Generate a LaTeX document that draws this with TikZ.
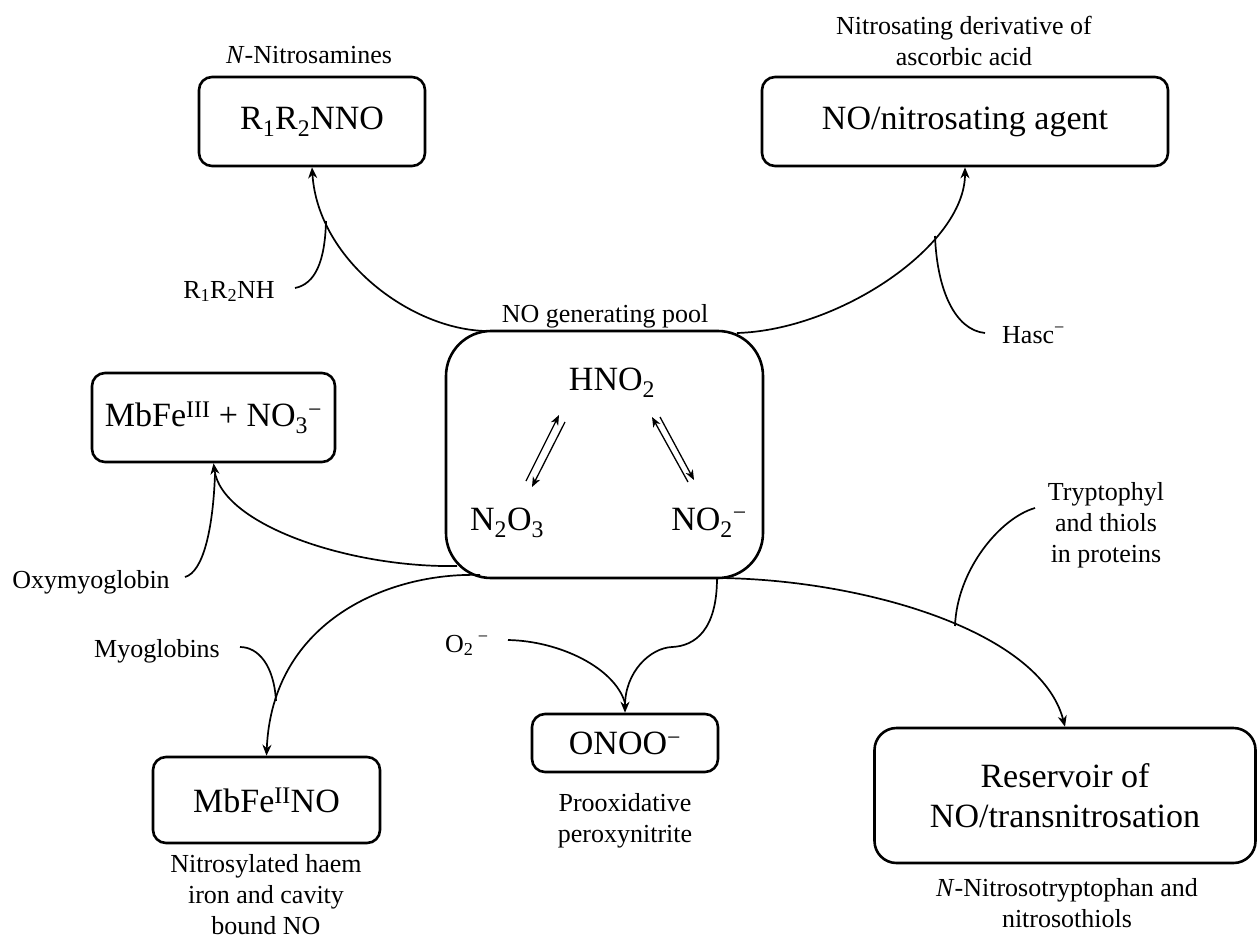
\documentclass[tikz,border=0pt]{standalone}
\usepackage{fontspec}
\setmainfont{Liberation Serif}
\usetikzlibrary{arrows.meta}
\newcommand\bigtxt{\fontsize{34}{40}\selectfont}
\newcommand\smalltxt{\fontsize{26}{31}\selectfont}
\begin{document}
\begin{tikzpicture}[x=1pt,y=-1pt,
  box/.style={draw, line width=2.6pt, rounded corners=13pt, inner sep=0pt, align=center, font=\bigtxt},
  lbl/.style={inner sep=0pt, align=center, font=\smalltxt},
  chem/.style={inner sep=0pt, font=\bigtxt, anchor=base},
  conn/.style={line width=1.7pt, -{Stealth[length=11pt,width=9pt,inset=3.5pt]}},
  hookline/.style={line width=1.7pt},
  eq/.style={line width=1.3pt, -{Stealth[length=10pt,width=8pt,inset=3pt]}}]
\useasboundingbox (0,0) rectangle (1258,940);

% boxes
\node[box, minimum width=226pt, minimum height=89pt] (nno) at (312,121.5) {R\textsubscript{1}R\textsubscript{2}NNO};
\node[box, minimum width=406pt, minimum height=89pt] (nag) at (965,121.5) {NO/nitrosating agent};
\node[box, minimum width=243pt, minimum height=89pt] (mb3) at (213.5,417.5) {MbFe\textsuperscript{III} + NO\textsubscript{3}\textsuperscript{−}};
\node[box, minimum width=317pt, minimum height=247pt, rounded corners=45pt] (pool) at (604.5,454.5) {};
\node[box, minimum width=227pt, minimum height=86pt] (mb2) at (266.5,800) {MbFe\textsuperscript{II}NO};
\node[box, minimum width=186pt, minimum height=58pt] (onoo) at (625,743) {ONOO\textsuperscript{−}};
\node[box, minimum width=381pt, minimum height=135pt, rounded corners=22pt] (res) at (1065,795.5) {Reservoir of\\NO/transnitrosation};

% pool contents
\node[chem] (hno) at (612,390) {HNO\textsubscript{2}};
\node[chem] (n2o3) at (507,530) {N\textsubscript{2}O\textsubscript{3}};
\node[chem] (no2) at (709,530) {NO\textsubscript{2}\textsuperscript{−}};
\coordinate (eA1) at (526,481); \coordinate (eA2) at (559,415);
\coordinate (eB1) at (565,422); \coordinate (eB2) at (532,487);
\coordinate (eC1) at (688,482); \coordinate (eC2) at (652,417);
\coordinate (eD1) at (660,417); \coordinate (eD2) at (694,480);
\draw[eq] (eA1) -- (eA2);
\draw[eq] (eB1) -- (eB2);
\draw[eq] (eC1) -- (eC2);
\draw[eq] (eD1) -- (eD2);

% labels
\node[lbl, anchor=base] (lNitros) at (309,63) {\textit{N}-Nitrosamines};
\node[lbl] (lAsc) at (964,41) {Nitrosating derivative of\\ascorbic acid};
\node[lbl, anchor=base] (lPool) at (605,322) {NO generating pool};
\node[lbl, anchor=base] (r2nh) at (229,298) {R\textsubscript{1}R\textsubscript{2}NH};
\node[lbl, anchor=base west] (hasc) at (1002,343) {Hasc\textsuperscript{−}};
\node[lbl, anchor=base] (oxy) at (91,588) {Oxymyoglobin};
\node[lbl, anchor=base] (myo) at (157,657) {Myoglobins};
\node[lbl, anchor=base west] (o2) at (445,652) {O\textsubscript{2}\,\textsuperscript{−}};
\node[lbl] (tryp) at (1106,525) {Tryptophyl\\and thiols\\in proteins};
\node[lbl] (lOnoo) at (625,821) {Prooxidative\\peroxynitrite};
\node[lbl] (lMb2) at (266,895) {Nitrosylated haem\\iron and cavity\\bound NO};
\node[lbl] (lRes) at (1067,903) {\textit{N}-Nitrosotryptophan and\\nitrosothiols};

% connector anchors
\coordinate (pTL) at (490,331);
\coordinate (pTR) at (737,333);
\coordinate (pLa) at (457,566);
\coordinate (pLb) at (480,575);
\coordinate (pB) at (717,578);
\coordinate (j1) at (326,221);
\coordinate (j2) at (935,236);
\coordinate (j3) at (215,474);
\coordinate (j4) at (276,701);
\coordinate (j5) at (625,703);
\coordinate (j6) at (955,626);
\coordinate (h1) at (295,288);
\coordinate (h2) at (985,333);
\coordinate (h3) at (185,577);
\coordinate (h4) at (240,647);
\coordinate (h5) at (508,640);
\coordinate (h6) at (1035,508);

% main connectors
\draw[conn] (pTL) .. controls (415,332) and (318,262) .. (nno.south);
\draw[conn] (pTR) .. controls (840,330) and (965,245) .. (nag.south);
\draw[conn] (pLa) .. controls (350,568) and (222,525) .. (mb3.south);
\draw[conn] (pLb) .. controls (390,572) and (272,620) .. (mb2.north);
\draw[conn] (pB) .. controls (717,630) and (695,646) .. (672,647) .. controls (650,648) and (625,672) .. (onoo.north);
\draw[conn] (pB) .. controls (860,579) and (1040,630) .. (res.north);

% co-reactant hooks
\draw[hookline] (h1) .. controls (315,284) and (325,262) .. (j1);
\draw[hookline] (h2) .. controls (955,330) and (937,290) .. (j2);
\draw[hookline] (h3) .. controls (203,572) and (213,530) .. (j3);
\draw[hookline] (h4) .. controls (258,647) and (274,665) .. (j4);
\draw[hookline] (h5) .. controls (560,641) and (615,668) .. (j5);
\draw[hookline] (h6) .. controls (1000,518) and (957,570) .. (j6);
\end{tikzpicture}
\end{document}
